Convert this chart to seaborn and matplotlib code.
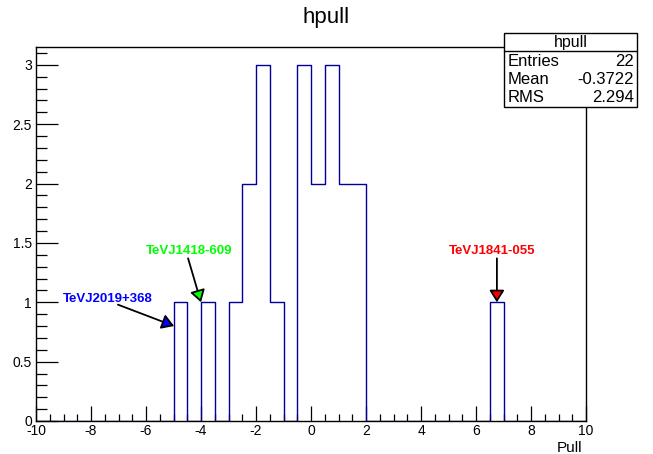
"""ROOT-style pull histogram (hpull) redrawn with seaborn."""
import matplotlib
matplotlib.use("Agg")
import matplotlib.pyplot as plt
from matplotlib.ticker import MultipleLocator, FormatStrFormatter
import pandas as pd
import seaborn as sns

# bin edges of the histogram (-10 .. 10, width 0.5) and counts per bin
bin_edges = [-10 + 0.5 * i for i in range(41)]
bin_counts = [0, 0, 0, 0, 0, 0, 0, 0, 0, 0,
              1, 0, 1, 0, 1, 2, 3, 1, 0, 3,
              2, 3, 2, 2, 0, 0, 0, 0, 0, 0,
              0, 0, 0, 1, 0, 0, 0, 0, 0, 0]

stats_labels = ["Entries", "Mean", "RMS"]
stats_values = ["22", "-0.3722", "2.294"]

# labelled sources: name, colour, label centre, arrow start, arrow tip
source_names = ["TeVJ2019+368", "TeVJ1418-609", "TeVJ1841-055"]
source_colors = ["#0000ff", "#00ff00", "#ff0000"]
source_labels = [(-7.4, 1.03), (-4.45, 1.43), (6.58, 1.43)]
source_starts = [(-7.02, 0.98), (-4.47, 1.37), (6.76, 1.37)]
source_tips = [(-4.98, 0.80), (-4.0, 1.0), (6.76, 1.0)]

sns.set_theme(style="white")
plt.rcParams["font.family"] = ["Liberation Sans", "DejaVu Sans"]
plt.rcParams["axes.unicode_minus"] = False
plt.rcParams["text.color"] = "black"
plt.rcParams["axes.labelcolor"] = "black"

fig = plt.figure(figsize=(6.53, 4.54), dpi=100)
ax = fig.add_axes([36 / 653, 33 / 454, 550 / 653, 374 / 454])

hist = pd.DataFrame({
    "pull": [(a + b) / 2 for a, b in zip(bin_edges[:-1], bin_edges[1:])],
    "count": bin_counts,
})
sns.histplot(data=hist, x="pull", weights="count", bins=bin_edges, element="step",
             fill=False, color="#000099", linewidth=1.0, ax=ax)

ax.set_xlim(-10, 10)
ax.set_ylim(0, 3.15)
ax.set_ylabel("")
ax.set_xlabel("")
fig.text(582 / 653, 1 - 448 / 454, "Pull", ha="right", va="center", fontsize=11)

for side in ["left", "bottom", "top", "right"]:
    ax.spines[side].set_color("black")
    ax.spines[side].set_linewidth(1.0)
    ax.spines[side].set_zorder(3)

ax.xaxis.set_major_locator(MultipleLocator(2))
ax.xaxis.set_minor_locator(MultipleLocator(0.5))
ax.yaxis.set_major_locator(MultipleLocator(0.5))
ax.yaxis.set_minor_locator(MultipleLocator(0.1))
ax.yaxis.set_major_formatter(FormatStrFormatter("%g"))
ax.tick_params(axis="both", which="both", direction="in", colors="black",
               labelsize=10, width=0.9, bottom=True, left=True,
               top=False, right=False)
ax.tick_params(axis="x", which="major", length=11, pad=2)
ax.tick_params(axis="x", which="minor", length=5)
ax.tick_params(axis="y", which="major", length=16, pad=3)
ax.tick_params(axis="y", which="minor", length=8)

for name, col, lab, start, tip in zip(source_names, source_colors, source_labels,
                                      source_starts, source_tips):
    ax.annotate("", xy=tip, xytext=start,
                arrowprops=dict(arrowstyle="-|>,head_length=0.4,head_width=0.25",
                                fc=col, ec="black", lw=1.3, mutation_scale=18,
                                shrinkA=0, shrinkB=0))
    ax.text(lab[0], lab[1], name, color=col, fontsize=9.5, fontweight="bold",
            ha="center", va="center")

fig.text(0.5, 1 - 17 / 454, "hpull", ha="center", va="center", fontsize=16)

# statistics box
box_l, box_r = 504 / 653, 637 / 653
box_t, box_b, box_sep = 1 - 33 / 454, 1 - 107 / 454, 1 - 51 / 454
fig.patches.append(plt.Rectangle((box_l, box_b), box_r - box_l, box_t - box_b,
                                 transform=fig.transFigure, fc="white",
                                 ec="black", lw=1.0, zorder=5))
fig.add_artist(plt.Line2D([box_l, box_r], [box_sep, box_sep],
                          transform=fig.transFigure, color="black", lw=1.0, zorder=6))
fig.text((box_l + box_r) / 2, 1 - 42 / 454, "hpull", ha="center", va="center",
         fontsize=11.5, zorder=7)
for i, (lab, val) in enumerate(zip(stats_labels, stats_values)):
    y = 1 - (62 + 18 * i) / 454
    fig.text(box_l + 4 / 653, y, lab, ha="left", va="center", fontsize=12, zorder=7)
    fig.text(box_r - 3 / 653, y, val, ha="right", va="center", fontsize=12, zorder=7)

fig.savefig("out.png", dpi=100)
